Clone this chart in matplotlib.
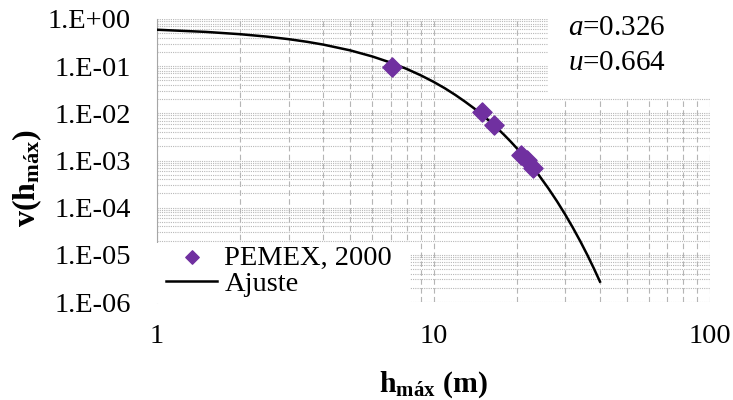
import matplotlib.pyplot as plt
from matplotlib.patches import Rectangle
from matplotlib.ticker import LogLocator, FixedLocator

plt.rcParams['font.family'] = ['Liberation Serif', 'DejaVu Serif']
plt.rcParams['mathtext.fontset'] = 'custom'
plt.rcParams['mathtext.rm'] = 'Liberation Serif'
plt.rcParams['mathtext.it'] = 'Liberation Serif:italic'
plt.rcParams['mathtext.bf'] = 'Liberation Serif:bold'

# observed points (PEMEX, 2000)
h_obs = [7.06, 15.0, 16.6, 20.8, 21.7, 22.9]
v_obs = [0.0975, 0.0105, 0.0057, 0.0013, 0.00103, 0.00068]

# fitted curve
h_fit = [1, 1.5, 2, 2.5, 3, 3.5, 4, 5, 6, 7, 8, 9, 10, 11, 12, 13, 14, 15, 16, 17,
         18, 19, 20, 22, 24, 26, 28, 30, 32, 34, 36, 38, 40]
v_fit = [0.592, 0.533, 0.476, 0.423, 0.373, 0.3275, 0.286, 0.216, 0.161, 0.119,
         0.0874, 0.0639, 0.0466, 0.0339, 0.0245, 0.0177, 0.01285, 0.00928, 0.00672,
         0.00485, 0.003505, 0.00253, 0.001827, 0.000953, 0.000497, 0.000259,
         0.000135, 7.03e-5, 3.66e-5, 1.91e-5, 9.95e-6, 5.18e-6, 2.70e-6]

y_ticks = [1e0, 1e-1, 1e-2, 1e-3, 1e-4, 1e-5, 1e-6]
y_labels = ['1.E+00', '1.E-01', '1.E-02', '1.E-03', '1.E-04', '1.E-05', '1.E-06']
x_ticks = [1, 10, 100]
x_labels = ['1', '10', '100']

fig = plt.figure(figsize=(7.33, 4.0), dpi=100)
ax = fig.add_axes([157/733, 1 - 302/400, (710 - 157)/733, (302 - 19)/400])

ax.set_xscale('log')
ax.set_yscale('log')
ax.set_xlim(1, 100)
ax.set_ylim(1e-6, 1)

ax.xaxis.set_major_locator(FixedLocator(x_ticks))
ax.set_xticklabels(x_labels)
ax.xaxis.set_minor_locator(LogLocator(base=10, subs=range(2, 10)))
ax.yaxis.set_major_locator(FixedLocator(y_ticks))
ax.set_yticklabels(y_labels)
ax.yaxis.set_minor_locator(LogLocator(base=10, subs=range(2, 10), numticks=20))
ax.tick_params(which='both', length=0, labelsize=20.5)
ax.tick_params(axis='y', pad=19)
ax.tick_params(axis='x', pad=16)

ax.grid(True, axis='x', which='both', color='#b5b5b5', linestyle=(0, (5, 3)), linewidth=0.8)
ax.grid(True, axis='y', which='both', color='#b8b8b8', linestyle=(0, (1, 1)), linewidth=0.8)

for s in ['top', 'right', 'bottom']:
    ax.spines[s].set_visible(False)
ax.spines['left'].set_color('#a6a6a6')
ax.spines['left'].set_linewidth(0.8)

line, = ax.plot(h_fit, v_fit, color='black', linewidth=1.8, zorder=3)
pts = ax.scatter(h_obs, v_obs, marker='D', s=95, color='#7030A0', zorder=4)

# white boxes behind legend and parameter text
ax.add_patch(Rectangle((150/733, 1 - 303/400), (410 - 150)/733, 60/400, transform=fig.transFigure,
                       facecolor='white', edgecolor='none', zorder=5, clip_on=False))
ax.add_patch(Rectangle((548/733, 1 - 98/400), 1 - 548/733, 98/400, transform=fig.transFigure,
                       facecolor='white', edgecolor='none', zorder=5, clip_on=False))

leg = ax.legend([pts, line], ['PEMEX, 2000', 'Ajuste'], loc='upper left',
                bbox_to_anchor=(166/733, 1 - 245/400),
                bbox_transform=fig.transFigure, frameon=False, fontsize=20.5,
                handlelength=1.8, handletextpad=0.25, labelspacing=0.0,
                borderpad=0, borderaxespad=0, markerscale=0.7)
leg.set_zorder(6)

fig.text(568/733, 1 - 28/400, r'$\mathit{a}$=0.326', fontsize=21, va='center', ha='left', zorder=7)
fig.text(568/733, 1 - 63/400, r'$\mathit{u}$=0.664', fontsize=21, va='center', ha='left', zorder=7)

ax.set_xlabel(r'$\mathbf{h}_{\mathbf{máx}}$ (m)', fontsize=21.5, fontweight='bold')
ax.xaxis.set_label_coords(0.5, -(385 - 302)/283, transform=ax.transAxes)
ax.xaxis.label.set_va('center')
ax.set_ylabel(r'$\mathbf{v(h}_{\mathbf{máx}}\mathbf{)}$', fontsize=23, fontweight='bold')
ax.yaxis.set_label_coords(-(157 - 27)/553, 1 - (178 - 19)/283, transform=ax.transAxes)
ax.yaxis.label.set_va('center')

fig.savefig('out.png', dpi=100)
